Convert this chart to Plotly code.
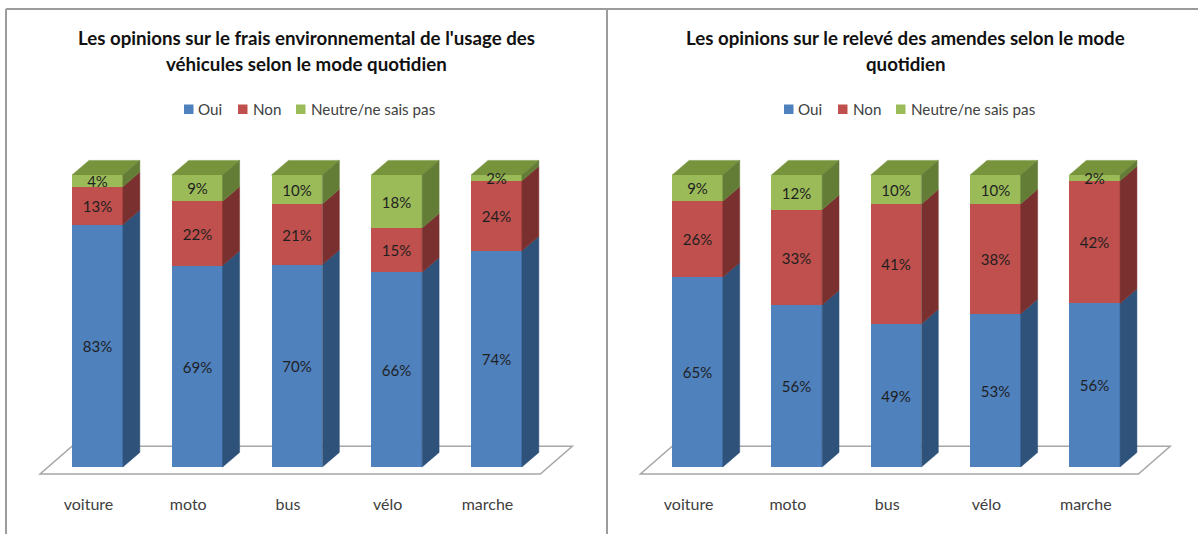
import plotly.graph_objects as go

categories = ["voiture", "moto", "bus", "vélo", "marche"]
series_names = ["Oui", "Non", "Neutre/ne sais pas"]

left_oui = [83, 69, 70, 66, 74]
left_non = [13, 22, 21, 15, 24]
left_neutre = [4, 9, 10, 18, 2]

right_oui = [65, 56, 49, 53, 56]
right_non = [26, 33, 41, 38, 42]
right_neutre = [9, 12, 10, 10, 2]

title_left = ["Les opinions sur le frais environnemental de l'usage des",
              "véhicules selon le mode quotidien"]
title_right = ["Les opinions sur le relevé des amendes selon le mode", "quotidien"]

FRONT = ["#4F81BD", "#C0504D", "#9BBB59"]
SIDE = ["#2F527A", "#7A302E", "#637C36"]
TOP = "#77933C"
FONT = "Lato"
W, H = 1198, 534
BAR_W = 0.51
DX, DY = 0.17, 5.0
PX_PER_VAL = 2.92
Y_BOTTOM_PX, Y_TOP_PX, BASE_PX = 490, 130, 467
Y_RANGE = [(BASE_PX - Y_BOTTOM_PX) / PX_PER_VAL, (BASE_PX - Y_TOP_PX) / PX_PER_VAL]
Y_DOMAIN = [1 - Y_BOTTOM_PX / H, 1 - Y_TOP_PX / H]

fig = go.Figure()


def panel(values, xa, ya, x_range, dom):
    xs = list(range(len(categories)))
    for k, vals in enumerate(values):
        fig.add_trace(go.Bar(
            x=xs, y=vals, name=series_names[k], width=BAR_W, xaxis=xa, yaxis=ya,
            showlegend=False, marker=dict(color=FRONT[k], line=dict(width=0)),
            text=[f"{v}%" for v in vals], textposition="inside", textangle=0,
            insidetextanchor="middle", constraintext="none",
            textfont=dict(family=FONT, size=15, color="#1f1f1f"), hoverinfo="name+y",
        ))
    totals = [sum(v[i] for v in values) for i in xs]
    base = [0.0] * len(xs)
    for k, vals in enumerate(values):
        px, py = [], []
        for i in xs:
            y0 = base[i]
            y1 = y0 + vals[i] * 100 / totals[i]
            r = i + BAR_W / 2
            px += [r, r + DX, r + DX, r, r, None]
            py += [y0, y0 + DY, y1 + DY, y1, y0, None]
            base[i] = y1
        fig.add_trace(go.Scatter(x=px, y=py, mode="lines", fill="toself", fillcolor=SIDE[k],
                                 line=dict(width=0.5, color=SIDE[k]), xaxis=xa, yaxis=ya,
                                 showlegend=False, hoverinfo="skip"))
    # top faces and floor of the 3-D box sit below the bars, so data labels stay readable
    top = ""
    for i in xs:
        l, r = i - BAR_W / 2, i + BAR_W / 2
        top += f"M{l},100 L{r},100 L{r + DX},{100 + DY} L{l + DX},{100 + DY} Z "
    fig.add_shape(type="path", xref=xa, yref=ya, layer="below", path=top.strip(),
                  line=dict(color=TOP, width=0.5), fillcolor=TOP)
    fl, fr = -0.575, 4.44
    fb, ft = -2.4, 7.1
    fig.add_shape(type="path", xref=xa, yref=ya, layer="below",
                  path=f"M{fl},{fb} L{fr},{fb} L{fr + 0.32},{ft} L{fl + 0.32},{ft} Z",
                  line=dict(color="#A6A6A6", width=1.5), fillcolor="rgba(0,0,0,0)")
    name = xa.replace("x", "xaxis")
    fig.layout[name] = dict(
        domain=dom, range=x_range, showgrid=False, zeroline=False, showline=False,
        tickmode="array", tickvals=[i - 0.09 for i in xs], ticktext=categories, ticklen=0,
        ticklabelstandoff=3,
        tickfont=dict(family=FONT, size=16, color="#404040"), anchor=ya, fixedrange=True,
    )
    fig.layout[ya.replace("y", "yaxis")] = dict(domain=Y_DOMAIN, range=Y_RANGE, visible=False,
                                               anchor=xa, fixedrange=True)


panel([left_oui, left_non, left_neutre], "x", "y", [-0.977, 5.028], [0, 0.5])
panel([right_oui, right_non, right_neutre], "x2", "y2", [-0.992, 5.04], [0.5, 1])

for x, lines in [(306.5 / W, title_left), (905.5 / W, title_right)]:
    for line, y_px in zip(lines, [38, 64]):
        fig.add_annotation(x=x, y=1 - y_px / H, xref="paper", yref="paper", text=line,
                           showarrow=False, xanchor="center", yanchor="middle",
                           font=dict(family=FONT, size=18.7, color="#111111", weight="bold"))

# compact legends: swatch sits closer to its text than a native Plotly legend allows
LEG_SWATCH_PX = [184, 238, 296]
LEG_TEXT_PX = [197, 252, 310]
for offset in (0, 600):
    for k, label in enumerate(series_names):
        s = LEG_SWATCH_PX[k] + offset
        fig.add_shape(type="rect", xref="paper", yref="paper", x0=s / W, x1=(s + 9.5) / W,
                      y0=1 - 114 / H, y1=1 - 104.5 / H, fillcolor=FRONT[k], line=dict(width=0))
        fig.add_annotation(x=(LEG_TEXT_PX[k] + offset) / W, y=1 - 109 / H, xref="paper",
                           yref="paper", text=label, showarrow=False, xanchor="left",
                           yanchor="middle", xshift=-1,
                           font=dict(family=FONT, size=15.2, color="#404040"))

for x0, y0, x1, y1 in [(6, 9, 6, H), (6, 9, W, 9), (607, 9, 607, H)]:
    fig.add_shape(type="line", xref="paper", yref="paper", x0=x0 / W, x1=x1 / W,
                  y0=1 - y0 / H, y1=1 - y1 / H, line=dict(color="#9C9C9C", width=2))

fig.update_layout(
    width=W, height=H, margin=dict(l=0, r=0, t=0, b=0), barmode="stack", barnorm="percent",
    bargap=0, paper_bgcolor="white", plot_bgcolor="rgba(0,0,0,0)", hovermode="closest",
)
fig.write_html("out.html", config={"displayModeBar": False},
               post_script="document.body.style.margin='0';")
